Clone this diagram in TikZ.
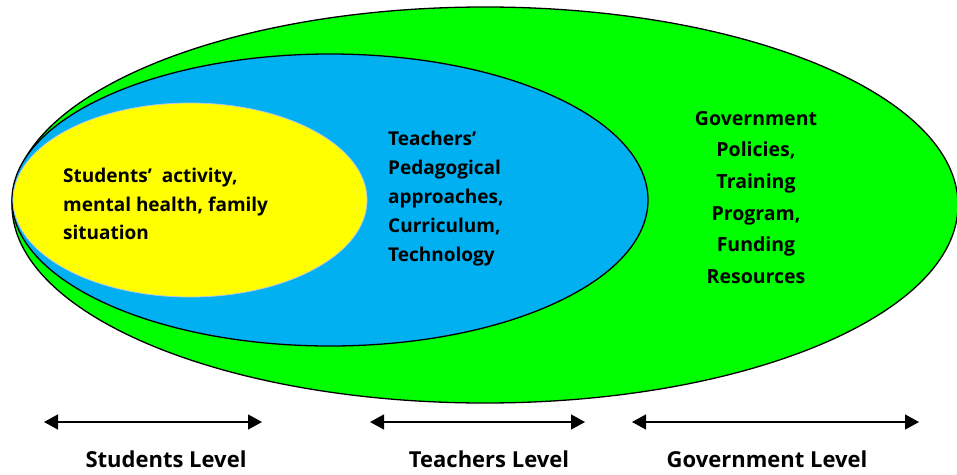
\documentclass[tikz,border=0pt]{standalone}
\usepackage{fontspec}
\setmainfont{Open Sans}
\usetikzlibrary{arrows.meta}
\definecolor{govgreen}{HTML}{00FF00}
\definecolor{teachblue}{HTML}{00B0F0}
\definecolor{studyellow}{HTML}{FFFF00}
\definecolor{paleedge}{HTML}{B4C7E7}
\begin{document}
\begin{tikzpicture}[x=1pt,y=-1pt,
  ring/.style={line width=1.3pt},
  inner/.style={font=\bfseries\fontsize{19}{29}\selectfont, inner sep=0pt},
  level/.style={font=\bfseries\fontsize{22}{26}\selectfont, inner sep=0pt},
  span/.style={line width=1.4pt, {Triangle[length=14pt,width=15pt]}-{Triangle[length=14pt,width=15pt]}}]
  \useasboundingbox (0,0) rectangle (957,474);
  % nested levels
  \begin{scope}
    \clip (0,0) rectangle (957,474);
    \draw[ring, fill=govgreen] (485,205) ellipse [x radius=473, y radius=198];
  \end{scope}
  \draw[ring, fill=teachblue] (330,200) ellipse [x radius=318, y radius=146];
  \draw[line width=0.8pt, draw=paleedge, fill=studyellow] (190,200) ellipse [x radius=177, y radius=97];
  % texts inside the rings
  \node[inner, anchor=north west, align=left, font=\bfseries\fontsize{19}{28.5}\selectfont] (stud) at (63,168)
    {Students’\ \ activity,\\ mental health, family\\ situation};
  \node[inner, anchor=north west, align=left] (teach) at (388,131)
    {Teachers’\\ Pedagogical\\ approaches,\\ Curriculum,\\ Technology};
  \node[inner, anchor=north, align=center, font=\bfseries\fontsize{19.5}{31.6}\selectfont] (gov) at (756,111)
    {Government\\ Policies,\\ Training\\ Program,\\ Funding\\ Resources};
  % level spans
  \coordinate (s1) at (44,422);  \coordinate (s2) at (262,422);
  \coordinate (t1) at (370,422); \coordinate (t2) at (585,422);
  \coordinate (g1) at (632,422); \coordinate (g2) at (919,422);
  \draw[span] (s1) -- (s2);
  \draw[span] (t1) -- (t2);
  \draw[span] (g1) -- (g2);
  \node[level] (sl) at (166,459) {Students Level};
  \node[level] (tl) at (489,459) {Teachers Level};
  \node[level] (gl) at (767,459) {Government Level};
\end{tikzpicture}
\end{document}
